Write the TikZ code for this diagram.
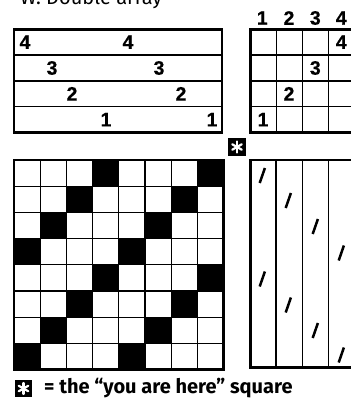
\documentclass[tikz,border=0pt]{standalone}
\usepackage{fontspec}
\setmainfont{Fira Sans}
\newfontfamily\numfont[FakeBold=0.6]{Liberation Sans Bold}
\tikzset{
  outerline/.style={line width=2.4pt},
  innerline/.style={line width=1.3pt},
  num/.style={font=\numfont\fontsize{19.5}{19.5}\selectfont, inner sep=0pt},
  slashmark/.style={line width=2.5pt},
  starbox/.style={fill=black},
  astline/.style={draw=white, line width=2.2pt}
}
\newcommand{\astmark}[2]{%
  \foreach \a in {90,150,210,270,330,30} {\draw[astline,line cap=round] (#1,#2) -- ++(\a:-5.5);}%
}
\begin{document}
\begin{tikzpicture}[x=1pt,y=-1pt]
\useasboundingbox (0,0) rectangle (351,402);
\clip (0,0) rectangle (351,402);

% clipped title at top
\node[anchor=base west, inner sep=0pt, font=\fontsize{20}{20}\selectfont] (title) at (20,4) {W. Double array};

% ---- top-left box ----
\foreach \y in {55.1,80.9,106.7} {\draw[innerline] (14,\y) -- (222,\y);}
\draw[outerline] (14,29.3) rectangle (222,132.5);
\node[num] (a1) at (25,42.2) {4};
\node[num] (a2) at (128,42.2) {4};
\node[num] (b1) at (52,68) {3};
\node[num] (b2) at (159,68) {3};
\node[num] (c1) at (72,93.8) {2};
\node[num] (c2) at (181,93.8) {2};
\node[num] (d1) at (106,119.6) {1};
\node[num] (d2) at (212,119.6) {1};

% ---- top-right grid ----
\foreach \x in {276.2,302.3,328.5} {\draw[innerline] (\x,29.3) -- (\x,132.5);}
\foreach \y in {55.1,80.9,106.7} {\draw[innerline] (250.5,\y) -- (354.7,\y);}
\draw[outerline] (250.5,29.3) rectangle (354.7,132.5);
\node[num] (h1) at (262.3,18) {1};
\node[num] (h2) at (289,18) {2};
\node[num] (h3) at (315.3,18) {3};
\node[num] (h4) at (341.3,18) {4};
\node[num] (g4) at (341.3,42.2) {4};
\node[num] (g3) at (315.3,68) {3};
\node[num] (g2) at (289,93.8) {2};
\node[num] (g1) at (263,119.6) {1};

% ---- "you are here" square ----
\fill[starbox] (228,138) rectangle (246,156);
\astmark{237}{147}

% ---- bottom-left grid ----
\foreach \r in {0,...,7} {
  \pgfmathsetmacro\ya{160+26.2*\r}
  \pgfmathtruncatemacro\ca{3-mod(\r,4)}
  \pgfmathtruncatemacro\cb{7-mod(\r,4)}
  \pgfmathsetmacro\xa{14+26.2*\ca}
  \pgfmathsetmacro\xb{14+26.2*\cb}
  \fill[black] (\xa,\ya) rectangle ++(26.2,26.2);
  \fill[black] (\xb,\ya) rectangle ++(26.2,26.2);
}
\foreach \i in {1,...,7} {
  \pgfmathsetmacro\xx{14+26.2*\i}
  \pgfmathsetmacro\yy{160+26.2*\i}
  \draw[innerline] (\xx,160) -- (\xx,369.6);
  \draw[innerline] (14,\yy) -- (223.6,\yy);
}
\draw[outerline] (14,160) rectangle (223.6,369.6);

% ---- bottom-right box ----
\foreach \x in {276,302.3,328.7} {\draw[innerline] (\x,160) -- (\x,367.5);}
\draw[outerline] (250.5,160) rectangle (355,367.5);
\foreach \cx/\cy in {262.3/175.5, 288.3/200.5, 315.3/226.5, 341.3/253, 262.3/279, 288.3/305, 315.3/330.5, 341.3/355} {
  \draw[slashmark] (\cx-2.6,\cy+7.5) -- (\cx+2.6,\cy-7.5);
}

% ---- legend ----
\fill[starbox] (15,380) rectangle (32,397);
\astmark{23.5}{388.5}
\node[anchor=west, inner sep=0pt, font=\bfseries\fontsize{20}{20}\selectfont] (legend) at (44,388.5) {= the “you are here” square};
\end{tikzpicture}
\end{document}
